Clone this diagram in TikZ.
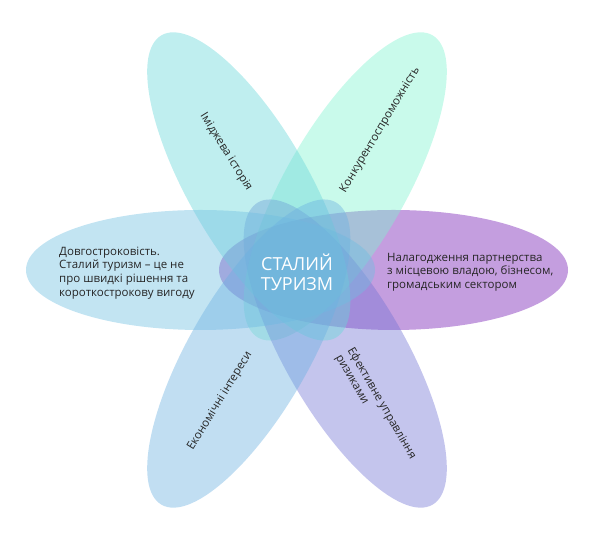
\documentclass[tikz,border=0pt]{standalone}
\usepackage{fontspec}
\setmainfont{Open Sans}
\begin{document}
\begin{tikzpicture}[x=1pt,y=1pt,
  petal/.style={fill opacity=0.42},
  lbl/.style={inner sep=0pt, text=black!85, font=\fontsize{11.5}{13.7}\selectfont},
]
\useasboundingbox (0,0) rectangle (600,545);
\definecolor{ctl}{HTML}{66D7D9}
\definecolor{ctr}{HTML}{7FF2CF}
\definecolor{cl}{HTML}{6EBEE1}
\definecolor{cr}{HTML}{7317B2}
\definecolor{cbl}{HTML}{6BB1E1}
\definecolor{cbr}{HTML}{7375D4}
\coordinate (C) at (297,275);
\path (C) ++(120:96.5) coordinate (etl);
\path (C) ++(60:96.5) coordinate (etr);
\path (C) ++(180:96.5) coordinate (el);
\path (C) ++(240:96.5) coordinate (ebl);
\path (C) ++(300:96.5) coordinate (ebr);
\path (C) ++(0:96.5) coordinate (er);
\fill[petal, cr, shift={(er)}, rotate=0] (0,0) ellipse [x radius=174.5pt, y radius=60pt];
\fill[petal, ctr, shift={(etr)}, rotate=60] (0,0) ellipse [x radius=174.5pt, y radius=60pt];
\fill[petal, cbr, shift={(ebr)}, rotate=300] (0,0) ellipse [x radius=174.5pt, y radius=60pt];
\fill[petal, ctl, shift={(etl)}, rotate=120] (0,0) ellipse [x radius=174.5pt, y radius=60pt];
\fill[petal, cl, shift={(el)}, rotate=180] (0,0) ellipse [x radius=174.5pt, y radius=60pt];
\fill[petal, cbl, shift={(ebl)}, rotate=240] (0,0) ellipse [x radius=174.5pt, y radius=60pt];
\node[inner sep=0pt, text=white, align=center, font=\fontsize{18}{20}\selectfont] (title) at (297,273) {СТАЛИЙ\\ТУРИЗМ};
\node[lbl, align=left, anchor=west] (tleft) at (59,272) {Довгостроковість.\\Сталий туризм – це не\\про швидкі рішення та\\короткострокову вигоду};
\node[lbl, align=left, anchor=west] (tright) at (387,273) {Налагодження партнерства\\з місцевою владою, бізнесом,\\громадським сектором};
\node[lbl, rotate=-58] (ttl) at (226,393) {Іміджева історія};
\node[lbl, rotate=59] (ttr) at (380,415) {Конкурентоспроможність};
\node[lbl, rotate=58.5] (tbl) at (220,144) {Економічні інтереси};
\node[lbl, rotate=-60, align=left] (tbr) at (375.7,138) {Ефективне управління\\ризиками};
\end{tikzpicture}
\end{document}
